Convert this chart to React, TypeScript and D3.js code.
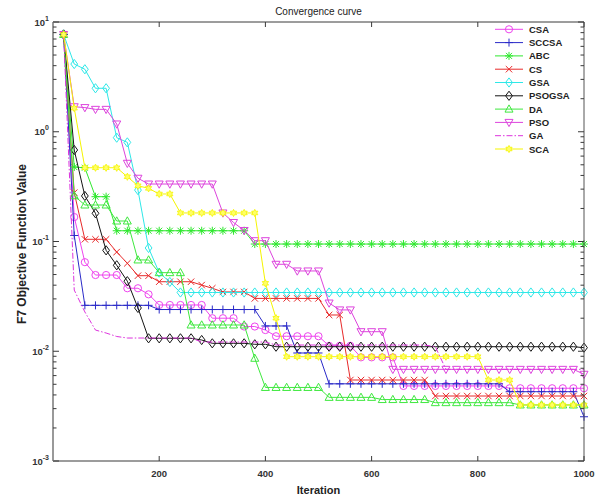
import React from 'react';
import * as d3 from 'd3';

// ---------- data ----------
const ITERATIONS = [20, 40, 60, 80, 100, 120, 140, 160, 180, 200, 220, 240, 260, 280, 300, 320, 340, 360, 380, 400, 420, 440, 460, 480, 500, 520, 540, 560, 580, 600, 620, 640, 660, 680, 700, 720, 740, 760, 780, 800, 820, 840, 860, 880, 900, 920, 940, 960, 980, 1000];

const CSA = [7.7, 0.167, 0.0648, 0.0495, 0.0495, 0.0495, 0.0375, 0.0375, 0.033,
  0.0264, 0.0264, 0.0264, 0.0264, 0.0264, 0.02, 0.02, 0.02, 0.0168, 0.0168, 0.0156,
  0.0137, 0.0137, 0.0137, 0.0137, 0.0137, 0.0112, 0.0112, 0.0112, 0.0088, 0.0088,
  0.0088, 0.0088, 0.00483, 0.00483, 0.00483, 0.00483, 0.00483, 0.00483, 0.00483, 0.00483,
  0.00483, 0.00483, 0.0046, 0.0046, 0.0046, 0.0046, 0.0046, 0.0046, 0.0046, 0.0046];

const SCCSA = [7.7, 0.1134, 0.0262, 0.0262, 0.0262, 0.0262, 0.0262, 0.0262, 0.0262,
  0.024, 0.024, 0.024, 0.024, 0.024, 0.024, 0.024, 0.024, 0.024, 0.024,
  0.017, 0.017, 0.017, 0.00964, 0.00964, 0.00964,
  0.00505, 0.00505, 0.00505, 0.00505, 0.00505, 0.00505, 0.00505, 0.00505, 0.00505, 0.00505,
  0.00505, 0.00505, 0.00505, 0.00505, 0.00505, 0.00505, 0.00505,
  0.00428, 0.00428, 0.00428, 0.00428, 0.00428, 0.00428, 0.00428, 0.00253];

const ABC = [7.7, 0.477, 0.47, 0.256, 0.256,
  0.1253, 0.1253, 0.1253, 0.1253, 0.1253, 0.1253, 0.1253, 0.1253, 0.1253, 0.1253, 0.1253, 0.1253, 0.1253,
  0.0948, 0.0948, 0.0948, 0.0948, 0.0948, 0.0948, 0.0948, 0.0948, 0.0948, 0.0948,
  0.0948, 0.0948, 0.0948, 0.0948, 0.0948, 0.0948, 0.0948, 0.0948, 0.0948, 0.0948,
  0.0948, 0.0948, 0.0948, 0.0948, 0.0948, 0.0948, 0.0948, 0.0948, 0.0948, 0.0948, 0.0948, 0.0948];

const CS = [7.7, 0.2786, 0.1047, 0.1047, 0.1047, 0.0802, 0.0633, 0.0488, 0.0488,
  0.043, 0.043, 0.043, 0.043, 0.0401, 0.0375, 0.0347, 0.0347, 0.0347,
  0.0303, 0.0303, 0.0303, 0.0303, 0.0303, 0.0303, 0.0303, 0.0214, 0.0214,
  0.00547, 0.00547, 0.00547, 0.00547, 0.00547, 0.00547, 0.00547, 0.00547,
  0.00391, 0.00391, 0.00391, 0.00391, 0.00391, 0.00391, 0.00391, 0.00391,
  0.00391, 0.00391, 0.00391, 0.00391, 0.00391, 0.00391, 0.00391];

const GSA = [7.7, 4.14, 3.71, 2.49, 2.49, 0.883, 0.8, 0.294, 0.0873, 0.052, 0.0428,
  0.0343, 0.0343, 0.0343, 0.0343, 0.0343, 0.0343, 0.0343, 0.0343, 0.0343, 0.0343,
  0.0343, 0.0343, 0.0343, 0.0343, 0.0343, 0.0343, 0.0343, 0.0343, 0.0343, 0.0343,
  0.0343, 0.0343, 0.0343, 0.0343, 0.0343, 0.0343, 0.0343, 0.0343, 0.0343, 0.0343,
  0.0343, 0.0343, 0.0343, 0.0343, 0.0343, 0.0343, 0.0343, 0.0343, 0.0343];

const PSOGSA = [7.7, 0.682, 0.26, 0.1807, 0.0831, 0.0607, 0.0435, 0.0248,
  0.01312, 0.01312, 0.01312, 0.01312, 0.01312, 0.01266, 0.01181, 0.01181, 0.01181, 0.01181,
  0.01157, 0.01157,
  0.011, 0.011, 0.011, 0.011, 0.011, 0.011, 0.011, 0.011, 0.011, 0.011,
  0.011, 0.011, 0.011, 0.011, 0.011, 0.011, 0.011, 0.011, 0.011, 0.011,
  0.011, 0.011, 0.011, 0.011, 0.011, 0.011, 0.011, 0.011, 0.011, 0.01078];

const DA = [7.7, 0.261, 0.215, 0.215, 0.215, 0.1537, 0.1537, 0.0679, 0.0679,
  0.052, 0.052, 0.052, 0.01735, 0.01735, 0.01735, 0.01735, 0.01735, 0.01735, 0.00863,
  0.00468, 0.00468, 0.00468, 0.00468, 0.00468, 0.00468,
  0.0038, 0.0038, 0.0038, 0.0038, 0.0038, 0.00363, 0.00363, 0.00363, 0.00363, 0.00363,
  0.0034, 0.0034, 0.0034, 0.0034, 0.0034, 0.0034, 0.0034, 0.0034,
  0.00324, 0.00324, 0.00324, 0.00324, 0.00324, 0.00324, 0.00324];

const PSO = [7.7, 1.69, 1.66, 1.6, 1.6, 1.177, 0.516, 0.377,
  0.334, 0.334, 0.334, 0.334, 0.334, 0.334, 0.334, 0.182, 0.149, 0.126, 0.1017, 0.1017,
  0.062, 0.062, 0.0539, 0.0539, 0.0539, 0.0275, 0.0238, 0.0238, 0.01507, 0.01507, 0.01507,
  0.00684, 0.00684, 0.00684, 0.00684, 0.00684, 0.00684, 0.00684, 0.00684, 0.00684,
  0.00684, 0.00684, 0.00684, 0.00684, 0.00684, 0.00684, 0.00684, 0.00684, 0.00684, 0.00617];

const GA = [7.7, 0.0361, 0.0228, 0.0156, 0.01466, 0.01363,
  0.0132, 0.0132, 0.0132, 0.0132, 0.0132, 0.0132, 0.0132,
  0.01214, 0.01214, 0.01214, 0.01214, 0.01214, 0.01214, 0.01214,
  0.0114, 0.0114, 0.0114, 0.0114, 0.0114, 0.0114, 0.0114, 0.0114, 0.0114, 0.0114,
  0.0114, 0.0114, 0.0114, 0.0114, 0.0114, 0.011,
  0.00684, 0.00684, 0.00684, 0.00684, 0.00684, 0.00684, 0.00684, 0.00684, 0.00684,
  0.00684, 0.00684, 0.00684, 0.00684, 0.00684];

const SCA = [7.7, 1.64, 0.47, 0.47, 0.47, 0.47, 0.389, 0.322, 0.305, 0.271, 0.271,
  0.182, 0.182, 0.182, 0.182, 0.182, 0.182, 0.182, 0.182, 0.0416, 0.02,
  0.00892, 0.00892, 0.00892, 0.00892, 0.00892, 0.00892, 0.00892, 0.00892, 0.00892, 0.00892,
  0.00892, 0.00892, 0.00892, 0.00892, 0.00892, 0.00892, 0.00892, 0.00892, 0.00892,
  0.00547, 0.00547, 0.00547, 0.00324, 0.00324, 0.00324, 0.00324, 0.00324, 0.00324, 0.00324];

const SERIES_NAMES = ['CSA', 'SCCSA', 'ABC', 'CS', 'GSA', 'PSOGSA', 'DA', 'PSO', 'GA', 'SCA'];
const SERIES_VALUES = [CSA, SCCSA, ABC, CS, GSA, PSOGSA, DA, PSO, GA, SCA];
const X_TICKS = [200, 400, 600, 800, 1000];
const Y_EXPONENTS = [1, 0, -1, -2, -3];

const TITLE = 'Convergence curve';
const X_LABEL = 'Iteration';
const Y_LABEL = 'F7 Objective Function Value';

// ---------- styles ----------
const STYLES: Record<string, { color: string; marker: string; dash?: string }> = {
  CSA: { color: '#ee44ee', marker: 'o' },
  SCCSA: { color: '#2a2ac8', marker: '+' },
  ABC: { color: '#2ee82e', marker: '*' },
  CS: { color: '#e82a2a', marker: 'x' },
  GSA: { color: '#2ee8e8', marker: 'd' },
  PSOGSA: { color: '#151515', marker: 'd' },
  DA: { color: '#3ee83e', marker: '^' },
  PSO: { color: '#dd44dd', marker: 'v' },
  GA: { color: '#dd33dd', marker: 'none', dash: '6,2,1.5,2' },
  SCA: { color: '#f5f500', marker: 'h' },
};

const W = 606;
const H = 497;
const M = { left: 53, right: 584, top: 22, bottom: 461 };
const FONT = "'Liberation Sans', Arial, Helvetica, sans-serif";

function hexagram(r: number): string {
  const pts: string[] = [];
  for (let k = 0; k < 12; k++) {
    const a = (Math.PI / 6) * k - Math.PI / 2;
    const rr = k % 2 === 0 ? r : r * 0.55;
    pts.push(`${(rr * Math.cos(a)).toFixed(2)},${(rr * Math.sin(a)).toFixed(2)}`);
  }
  return 'M' + pts.join('L') + 'Z';
}

function Marker({ type, x, y, color }: { type: string; x: number; y: number; color: string }) {
  const t = `translate(${x},${y})`;
  const common = { stroke: color, strokeWidth: 1, fill: 'none' } as any;
  switch (type) {
    case 'o':
      return <circle cx={x} cy={y} r={3.6} {...common} />;
    case '+':
      return <path transform={t} d="M-4,0H4M0,-4V4" {...common} />;
    case '*':
      return <path transform={t} d="M-4,0H4M0,-4V4M-3,-3L3,3M-3,3L3,-3" {...common} />;
    case 'x':
      return <path transform={t} d="M-3.2,-3.2L3.2,3.2M-3.2,3.2L3.2,-3.2" {...common} />;
    case 'd':
      return <path transform={t} d="M0,-4.6L3.4,0L0,4.6L-3.4,0Z" {...common} />;
    case '^':
      return <path transform={t} d="M0,-4.2L4,3L-4,3Z" {...common} />;
    case 'v':
      return <path transform={t} d="M0,4.2L4,-3L-4,-3Z" {...common} />;
    case 'h':
      return <path transform={t} d={hexagram(3.6)} stroke={color} strokeWidth={0.8} fill="#ffff66" />;
    default:
      return null;
  }
}

export default function App() {
  const x = d3.scaleLinear().domain([0, 1000]).range([M.left, M.right]);
  const y = d3.scaleLog().domain([1e-3, 1e1]).range([M.bottom, M.top]);

  const line = d3
    .line<[number, number]>()
    .x((d) => x(d[0]))
    .y((d) => y(d[1]));

  const minor: number[] = [];
  for (let e = -3; e < 1; e++) {
    for (let m = 2; m <= 9; m++) minor.push(m * Math.pow(10, e));
  }

  const axisColor = '#3a3a3a';
  const tickFont = { fontFamily: FONT, fontSize: 9.5, fontWeight: 700, fill: '#333' } as any;

  return (
    <svg width={W} height={H} style={{ position: 'absolute', left: 0, top: 0, background: '#fff' }}>
      <rect x={0} y={0} width={W} height={H} fill="#fff" />

      {/* series */}
      {SERIES_NAMES.map((name, si) => {
        const st = STYLES[name];
        const pts: [number, number][] = ITERATIONS.map((it, i) => [it, SERIES_VALUES[si][i]]);
        return (
          <g key={name}>
            <path d={line(pts) || ''} fill="none" stroke={st.color} strokeWidth={1} strokeDasharray={st.dash} />
            {st.marker !== 'none' &&
              pts.map((p, i) => <Marker key={i} type={st.marker} x={x(p[0])} y={y(p[1])} color={st.color} />)}
          </g>
        );
      })}

      {/* axes box */}
      <line x1={M.left} x2={M.right} y1={M.top} y2={M.top} stroke={axisColor} strokeWidth={1} />
      <line x1={M.right} x2={M.right} y1={M.top} y2={M.bottom} stroke="#555" strokeWidth={1} />
      <line x1={M.left} x2={M.right} y1={M.bottom} y2={M.bottom} stroke={axisColor} strokeWidth={1.2} />
      <line x1={M.left} x2={M.left} y1={M.top} y2={M.bottom} stroke="#999" strokeWidth={2} />

      {/* x ticks */}
      {X_TICKS.map((t) => (
        <g key={t}>
          <line x1={x(t)} x2={x(t)} y1={M.bottom} y2={M.bottom - 5} stroke={axisColor} />
          <line x1={x(t)} x2={x(t)} y1={M.top} y2={M.top + 5} stroke={axisColor} />
          <text x={x(t)} y={476.5} textAnchor="middle" {...tickFont}>
            {t}
          </text>
        </g>
      ))}

      {/* y ticks */}
      {Y_EXPONENTS.map((e) => {
        const yy = y(Math.pow(10, e));
        return (
          <g key={e}>
            <line x1={M.left} x2={M.left + 6} y1={yy} y2={yy} stroke={axisColor} />
            <line x1={M.right} x2={M.right - 6} y1={yy} y2={yy} stroke={axisColor} />
            <text x={49} y={yy + 3.5} textAnchor="end" {...tickFont}>
              10
              <tspan dy={-5} fontSize={7}>
                {String(e)}
              </tspan>
            </text>
          </g>
        );
      })}
      {minor.map((v, i) => (
        <g key={'m' + i}>
          <line x1={M.left} x2={M.left + 3.5} y1={y(v)} y2={y(v)} stroke={axisColor} />
          <line x1={M.right} x2={M.right - 3.5} y1={y(v)} y2={y(v)} stroke={axisColor} />
        </g>
      ))}

      {/* title & labels */}
      <text x={(M.left + M.right) / 2} y={15} textAnchor="middle" fontFamily={FONT} fontSize={10} fill="#222">
        {TITLE}
      </text>
      <text x={(M.left + M.right) / 2} y={494} textAnchor="middle" fontFamily={FONT} fontSize={11} fontWeight={700} fill="#222">
        {X_LABEL}
      </text>
      <text
        transform={`translate(25.5,${244}) rotate(-90)`}
        textAnchor="middle"
        fontFamily={FONT}
        fontSize={12}
        fontWeight={700}
        fill="#222"
      >
        {Y_LABEL}
      </text>

      {/* legend */}
      {SERIES_NAMES.map((name, i) => {
        const st = STYLES[name];
        const ly = 29.3 + i * 13.3;
        return (
          <g key={'lg' + name}>
            <line x1={495} x2={523} y1={ly} y2={ly} stroke={st.color} strokeWidth={1} strokeDasharray={st.dash} />
            {st.marker !== 'none' && <Marker type={st.marker} x={509} y={ly} color={st.color} />}
            <text x={529} y={ly + 3.5} fontFamily={FONT} fontSize={9.5} fontWeight={700} fill="#222">
              {name}
            </text>
          </g>
        );
      })}
    </svg>
  );
}
